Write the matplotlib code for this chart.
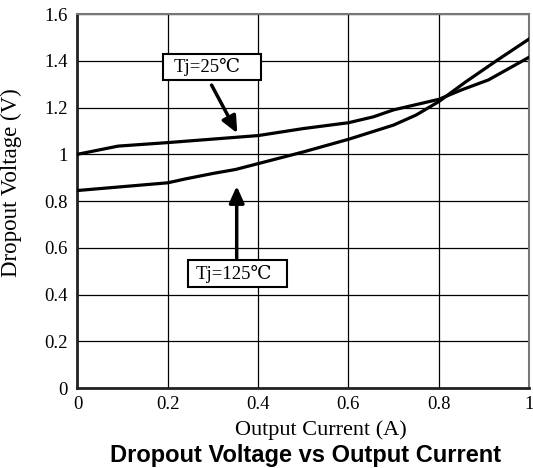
import matplotlib.pyplot as plt
from matplotlib.patches import Rectangle

# Dropout voltage vs output current
current_25 = [0.0, 0.09, 0.2, 0.4, 0.5, 0.6, 0.655, 0.7, 0.8, 0.85, 0.91, 1.0]
vdrop_25 = [1.0, 1.035, 1.05, 1.08, 1.11, 1.135, 1.16, 1.19, 1.235, 1.275, 1.318, 1.415]

current_125 = [0.0, 0.2, 0.24, 0.3, 0.35, 0.4, 0.5, 0.6, 0.7, 0.75, 0.8, 0.86, 0.93, 1.0]
vdrop_125 = [0.845, 0.878, 0.895, 0.918, 0.935, 0.96, 1.01, 1.064, 1.125, 1.168, 1.225, 1.31, 1.403, 1.493]

xticks = [0, 0.2, 0.4, 0.6, 0.8, 1]
xtick_labels = ["0", "0.2", "0.4", "0.6", "0.8", "1"]
yticks = [0, 0.2, 0.4, 0.6, 0.8, 1.0, 1.2, 1.4, 1.6]
ytick_labels = ["0", "0.2", "0.4", "0.6", "0.8", "1", "1.2", "1.4", "1.6"]

serif = ["Liberation Serif", "DejaVu Serif", "Noto Sans CJK SC"]

fig = plt.figure(figsize=(5.33, 4.68), dpi=100)
ax = fig.add_axes([0.1454, 0.1709, 0.8471, 0.7991])

ax.plot(current_25, vdrop_25, color="black", lw=2.3, zorder=3)
ax.plot(current_125, vdrop_125, color="black", lw=2.3, zorder=3)

ax.set_xlim(0, 1)
ax.set_ylim(0, 1.6)
ax.set_xticks(xticks)
ax.set_xticklabels(xtick_labels, family=serif, fontsize=13.5)
ax.set_yticks(yticks)
ax.set_yticklabels(ytick_labels, family=serif, fontsize=13.5)
ax.tick_params(axis="y", length=0, pad=7)
ax.tick_params(axis="x", length=0, pad=6)
ax.grid(True, color="black", lw=0.9)
ax.set_axisbelow(True)

for side in ["left", "bottom"]:
    ax.spines[side].set_linewidth(2.0)
    ax.spines[side].set_color("#222222")
for side in ["top", "right"]:
    ax.spines[side].set_linewidth(1.5)
    ax.spines[side].set_color("#777777")

ax.set_ylabel("Dropout Voltage (V)", family=serif, fontsize=16.5)
ax.yaxis.set_label_coords(-0.123, 0.548)
ax.set_xlabel("Output Current (A)", family=serif, fontsize=16, va="center")
ax.xaxis.set_label_coords(0.539, -0.112)
fig.text(0.573, 0.026, "Dropout Voltage vs Output Current", ha="center", va="center",
         family="Liberation Sans", fontweight="bold", fontsize=17)

arrow = dict(arrowstyle="-|>,head_length=1.0,head_width=0.45", color="black", lw=2.5,
             shrinkA=0, shrinkB=0)

# Tj=25C label with arrow
ax.add_patch(Rectangle((0.189, 1.318), 0.217, 0.11, fc="white", ec="black", lw=1.5, zorder=5))
ax.text(0.288, 1.373, "Tj=25\u2103", ha="center", va="center", family=serif,
        fontsize=13.5, zorder=6)
ax.annotate("", xy=(0.354, 1.09), xytext=(0.297, 1.296), arrowprops=arrow, zorder=4)

# Tj=125C label with arrow
ax.add_patch(Rectangle((0.245, 0.431), 0.22, 0.117, fc="white", ec="black", lw=1.5, zorder=5))
ax.text(0.347, 0.489, "Tj=125\u2103", ha="center", va="center", family=serif,
        fontsize=13.5, zorder=6)
ax.annotate("", xy=(0.3526, 0.864), xytext=(0.3526, 0.556), arrowprops=arrow, zorder=4)

fig.savefig("out.png", dpi=100)
